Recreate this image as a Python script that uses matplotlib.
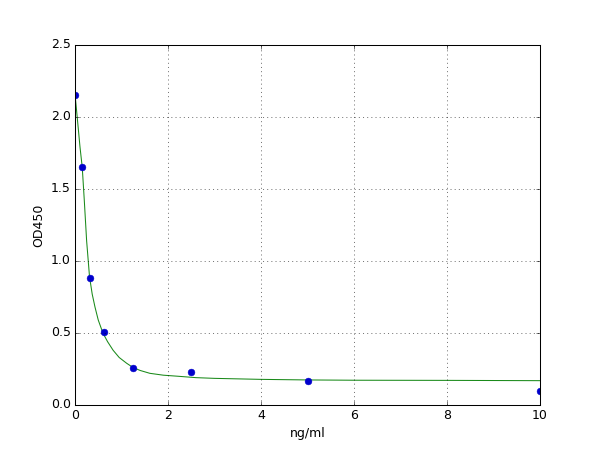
import matplotlib
matplotlib.use("Agg")
import matplotlib.pyplot as plt

plt.style.use("classic")

# Measured standards
conc = [0.0, 0.156, 0.3125, 0.625, 1.25, 2.5, 5.0, 10.0]
od = [2.155, 1.65, 0.885, 0.505, 0.258, 0.232, 0.168, 0.095]

# Fitted curve
curve_x = [0.0, 0.05, 0.108, 0.156, 0.2, 0.25, 0.3125, 0.37, 0.43, 0.5, 0.6,
           0.7, 0.82, 0.95, 1.11, 1.25, 1.4, 1.61, 1.9, 2.2, 2.6, 3.0, 4.0,
           5.0, 6.0, 8.0, 10.0]
curve_y = [2.16, 1.99, 1.79, 1.65, 1.42, 1.14, 0.89, 0.77, 0.68, 0.59, 0.50,
           0.44, 0.38, 0.33, 0.29, 0.26, 0.24, 0.22, 0.207, 0.20, 0.19, 0.185,
           0.178, 0.174, 0.172, 0.171, 0.169]

fig = plt.figure(figsize=(8, 6), dpi=75)
ax = fig.add_subplot(111)
ax.plot(curve_x, curve_y, color="#1a8a1a", linewidth=1)
ax.plot(conc, od, "o", color="#0000cc", markersize=6.5, markeredgecolor="#0000cc",
        markeredgewidth=0.5)
ax.set_xlim(0, 10)
ax.set_ylim(0, 2.5)
ax.set_xticks([0, 2, 4, 6, 8, 10])
ax.set_yticks([0.0, 0.5, 1.0, 1.5, 2.0, 2.5])
ax.grid(True, linestyle=":", color="k")
ax.set_xlabel("ng/ml")
ax.set_ylabel("OD450")
fig.savefig("out.png", dpi=75)
